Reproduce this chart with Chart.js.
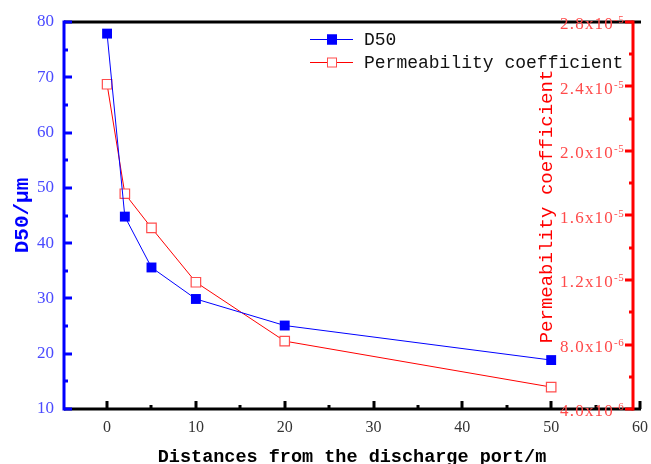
<!DOCTYPE html>
<html><head><meta charset="utf-8">
<script src="https://cdn.jsdelivr.net/npm/chart.js@4/dist/chart.umd.min.js"></script>
<style>html,body{margin:0;padding:0;background:#fff;}#wrap{width:651px;height:464px;}</style>
</head><body><div id="wrap"><canvas id="c" width="651" height="464"></canvas></div>
<script>
// ---- data ----
const distances = [0, 2, 5, 10, 20, 50];
const d50Values = [77.9, 44.8, 35.6, 29.9, 25.1, 18.85];
const permeabilityValues = [2.414e-5, 1.735e-5, 1.523e-5, 1.186e-5, 0.821e-5, 0.536e-5];
const xTickValues = [0, 10, 20, 30, 40, 50, 60];
const permTickMantissas = ['4.0', '8.0', '1.2', '1.6', '2.0', '2.4', '2.8'];
const permTickExponents = ['-6', '-6', '-5', '-5', '-5', '-5', '-5'];
const seriesLabels = ['D50', 'Permeability coefficient'];
const xTitle = 'Distances from the discharge port/m';
const yTitle = 'D50/μm';
const y2Title = 'Permeability coefficient';

const BLUE = '#0000ff', RED = '#ff0000';

const framePlugin = {
  id: 'frame',
  afterDatasetsDraw(chart) {
    const ctx = chart.ctx;
    const {left, right, top, bottom} = chart.chartArea;
    const xs = chart.scales.x, ys = chart.scales.y, y2 = chart.scales.y2;
    ctx.save();
    ctx.lineCap = 'butt';
    // top & bottom black lines
    ctx.strokeStyle = '#000'; ctx.lineWidth = 3;
    ctx.beginPath();
    ctx.moveTo(left, top); ctx.lineTo(right + 1, top);
    ctx.moveTo(left, bottom); ctx.lineTo(right + 1, bottom);
    ctx.stroke();
    // x ticks (inward)
    for (let v = 0; v <= 60; v += 5) {
      const px = Math.round(xs.getPixelForValue(v));
      const len = v % 10 === 0 ? 8 : 4;
      ctx.beginPath(); ctx.moveTo(px, bottom); ctx.lineTo(px, bottom - len); ctx.stroke();
    }
    // left blue axis
    ctx.strokeStyle = BLUE;
    ctx.beginPath(); ctx.moveTo(left, top - 1.5); ctx.lineTo(left, bottom + 1.5); ctx.stroke();
    for (let v = 10; v <= 80; v += 5) {
      const py = Math.round(ys.getPixelForValue(v));
      const len = v % 10 === 0 ? 8 : 4;
      ctx.beginPath(); ctx.moveTo(left, py); ctx.lineTo(left + len, py); ctx.stroke();
    }
    // right red axis
    const rx = Math.round(xs.getPixelForValue(59.2));
    ctx.strokeStyle = RED;
    ctx.beginPath(); ctx.moveTo(rx, top - 1.5); ctx.lineTo(rx, bottom + 1.5); ctx.stroke();
    const vals = permTickMantissas.map((m, i) => parseFloat(m) * Math.pow(10, parseInt(permTickExponents[i])));
    for (let i = 0; i < vals.length; i++) {
      const py = Math.round(y2.getPixelForValue(vals[i]));
      ctx.beginPath(); ctx.moveTo(rx, py); ctx.lineTo(rx - 8, py); ctx.stroke();
      if (i < vals.length - 1) {
        const pm = Math.round(y2.getPixelForValue((vals[i] + vals[i + 1]) / 2));
        ctx.beginPath(); ctx.moveTo(rx, pm); ctx.lineTo(rx - 4, pm); ctx.stroke();
      }
    }
    // right tick labels
    ctx.fillStyle = '#ff4a4a';
    for (let i = 0; i < vals.length; i++) {
      const py = y2.getPixelForValue(vals[i]);
      ctx.font = "17px 'Liberation Serif'";
      ctx.letterSpacing = '1.2px';
      ctx.textAlign = 'right'; ctx.textBaseline = 'alphabetic';
      ctx.fillText(permTickMantissas[i] + 'x10', rx - 19, py + 7);
      ctx.font = "11px 'Liberation Serif'";
      ctx.letterSpacing = '0.5px';
      ctx.textAlign = 'left';
      ctx.fillText(permTickExponents[i], rx - 19, py + 1);
    }
    ctx.letterSpacing = '0px';
    // right title
    ctx.save();
    ctx.translate(552, (top + bottom) / 2 - 9);
    ctx.rotate(-Math.PI / 2);
    ctx.font = "19px 'Liberation Mono'";
    ctx.fillStyle = RED; ctx.textAlign = 'center'; ctx.textBaseline = 'alphabetic';
    ctx.fillText(y2Title, 0, 0);
    ctx.restore();
    // legend
    const rows = [
      {label: seriesLabels[0], color: BLUE, fill: BLUE, stroke: BLUE, y: 39},
      {label: seriesLabels[1], color: RED, fill: '#fff', stroke: '#ff4d4d', y: 62}
    ];
    rows.forEach(r => {
      ctx.strokeStyle = r.color; ctx.lineWidth = 1;
      ctx.beginPath(); ctx.moveTo(310, r.y + 0.5); ctx.lineTo(353, r.y + 0.5); ctx.stroke();
      ctx.fillStyle = r.fill; ctx.fillRect(327, r.y - 4.5, 10, 10);
      ctx.strokeStyle = r.stroke; ctx.strokeRect(327.5, r.y - 4, 9, 9);
      ctx.fillStyle = '#111'; ctx.font = "18px 'Liberation Mono'";
      ctx.textAlign = 'left'; ctx.textBaseline = 'middle';
      ctx.fillText(r.label, 364, r.y + 1);
    });
    ctx.restore();
  }
};

new Chart(document.getElementById('c'), {
  type: 'line',
  data: {
    datasets: [
      {
        label: seriesLabels[0],
        data: distances.map((x, i) => ({x: x, y: d50Values[i]})),
        yAxisID: 'y',
        borderColor: BLUE, borderWidth: 1,
        pointStyle: 'rect', pointRadius: 7,
        pointBackgroundColor: BLUE, pointBorderColor: BLUE, pointBorderWidth: 0,
        tension: 0
      },
      {
        label: seriesLabels[1],
        data: distances.map((x, i) => ({x: x, y: permeabilityValues[i]})),
        yAxisID: 'y2',
        borderColor: RED, borderWidth: 1,
        pointStyle: 'rect', pointRadius: 6.7,
        pointBackgroundColor: '#ffffff', pointBorderColor: '#ff4d4d', pointBorderWidth: 1.2,
        tension: 0
      }
    ]
  },
  options: {
    responsive: false,
    animation: false,
    devicePixelRatio: 1,
    layout: {padding: {top: 22, right: 11, left: 0, bottom: 0}},
    plugins: {legend: {display: false}, tooltip: {enabled: false}},
    scales: {
      x: {
        type: 'linear', position: 'bottom', min: -4.85, max: 60,
        afterFit: s => { s.height = 55; s.paddingLeft = 0; s.paddingRight = 0; },
        afterBuildTicks: s => { s.ticks = xTickValues.map(v => ({value: v})); },
        grid: {display: false, drawTicks: false},
        border: {display: false},
        ticks: {color: '#333', font: {family: 'Liberation Serif', size: 16}, padding: 9, autoSkip: false, maxRotation: 0},
        title: {display: true, text: xTitle, color: '#000', font: {family: 'Liberation Mono', size: 18.5, weight: 'bold', lineHeight: 1}, padding: {top: 0, bottom: -3}}
      },
      y: {
        type: 'linear', position: 'left', min: 10, max: 80,
        afterFit: s => { s.width = 64; s.paddingTop = 0; s.paddingBottom = 0; },
        grid: {display: false, drawTicks: false},
        border: {display: false},
        ticks: {stepSize: 10, color: '#4a4aff', font: {family: 'Liberation Serif', size: 17}, padding: 10},
        title: {display: true, text: yTitle, color: BLUE, font: {family: 'Liberation Mono', size: 21, weight: 'bold', lineHeight: 1}, padding: {top: 12, bottom: 0}}
      },
      y2: {
        type: 'linear', position: 'right', min: 4e-6, max: 2.8e-5, display: false
      }
    }
  },
  plugins: [framePlugin]
});
</script>
</body></html>
